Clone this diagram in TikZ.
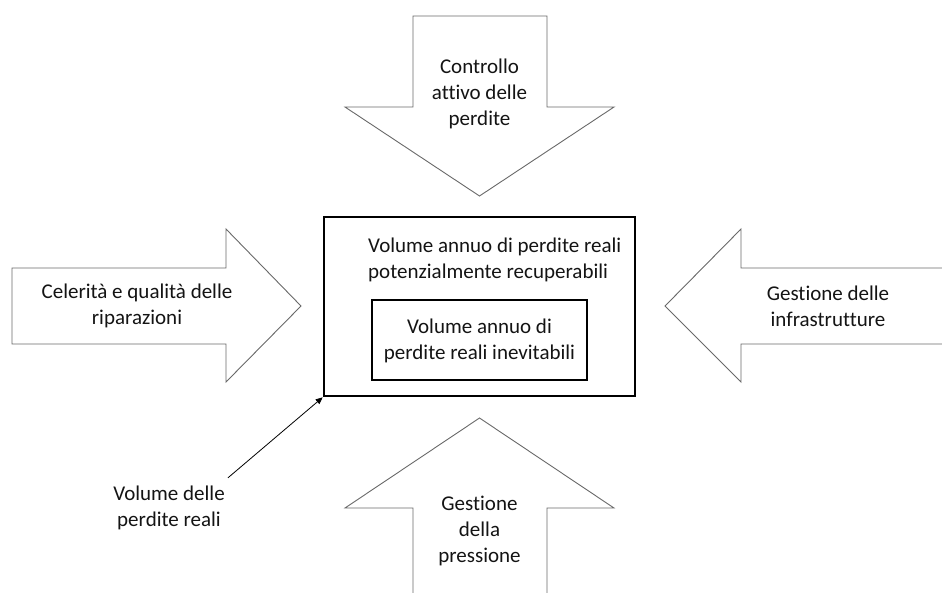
\documentclass[tikz,border=0pt]{standalone}
\usepackage{fontspec}
\setmainfont{Carlito}[RawFeature=-liga]
\usepackage{xcolor}
\usetikzlibrary{arrows.meta,positioning}
\definecolor{arrowgray}{RGB}{105,105,105}
\definecolor{textdark}{RGB}{20,20,20}
\tikzset{
  bigarrow/.style={draw=arrowgray, line width=0.9pt, fill=white, line join=miter},
  lbl/.style    ={align=center, font=\fontsize{21}{26}\selectfont,
                  text=textdark, inner sep=0pt},
  framebox/.style={draw=black, line width=2.6pt, inner sep=0pt},
  ptr/.style    ={-{Triangle[length=7pt,width=6pt]}, line width=0.8pt},
}

\begin{document}
\begin{tikzpicture}[x=1pt,y=-1pt]
  \clip (0,0) rectangle (942,592);

  % the four block arrows
  \draw[bigarrow] (413,16) -- (547,16) -- (547,107) -- (614,107)
        -- (479.5,196) -- (345,107) -- (413,107) -- cycle;
  \draw[bigarrow] (12,268) -- (226,268) -- (226,229) -- (301,306)
        -- (226,382) -- (226,344) -- (12,344) -- cycle;
  \draw[bigarrow] (950,268) -- (741,268) -- (741,229) -- (665,306)
        -- (741,382) -- (741,344) -- (950,344);
  \draw[bigarrow] (413,600) -- (413,508) -- (345,508) -- (479.5,418)
        -- (614,508) -- (547,508) -- (547,600);

  \node[lbl] (ctrl)  at (479.5,94)  {Controllo\\attivo delle\\perdite};
  \node[lbl] (celer) at (137,306)   {Celerità e qualità delle\\riparazioni};
  \node[lbl] (infra) at (828,306)   {Gestione delle\\infrastrutture};
  \node[lbl] (press) at (479.5,531) {Gestione\\della\\pressione};

  % central boxes
  \node[framebox, minimum width=311pt, minimum height=179pt]
        (lossbox) at (479.5,306.5) {};
  \node[framebox, minimum width=215pt, minimum height=80pt]
        (unavbox) at (479.5,340) {};
  \node[lbl, align=left, anchor=west] (recov) at (368,260)
        {Volume annuo di perdite reali\\potenzialmente recuperabili};
  \node[lbl] (unav) at (479.5,341) {Volume annuo di\\perdite reali inevitabili};

  \node[lbl] (vol) at (169,508) {Volume delle\\perdite reali};
  \draw[ptr] ([shift={(3pt,8pt)}]vol.north east) -- (lossbox.south west);
\end{tikzpicture}
\end{document}
